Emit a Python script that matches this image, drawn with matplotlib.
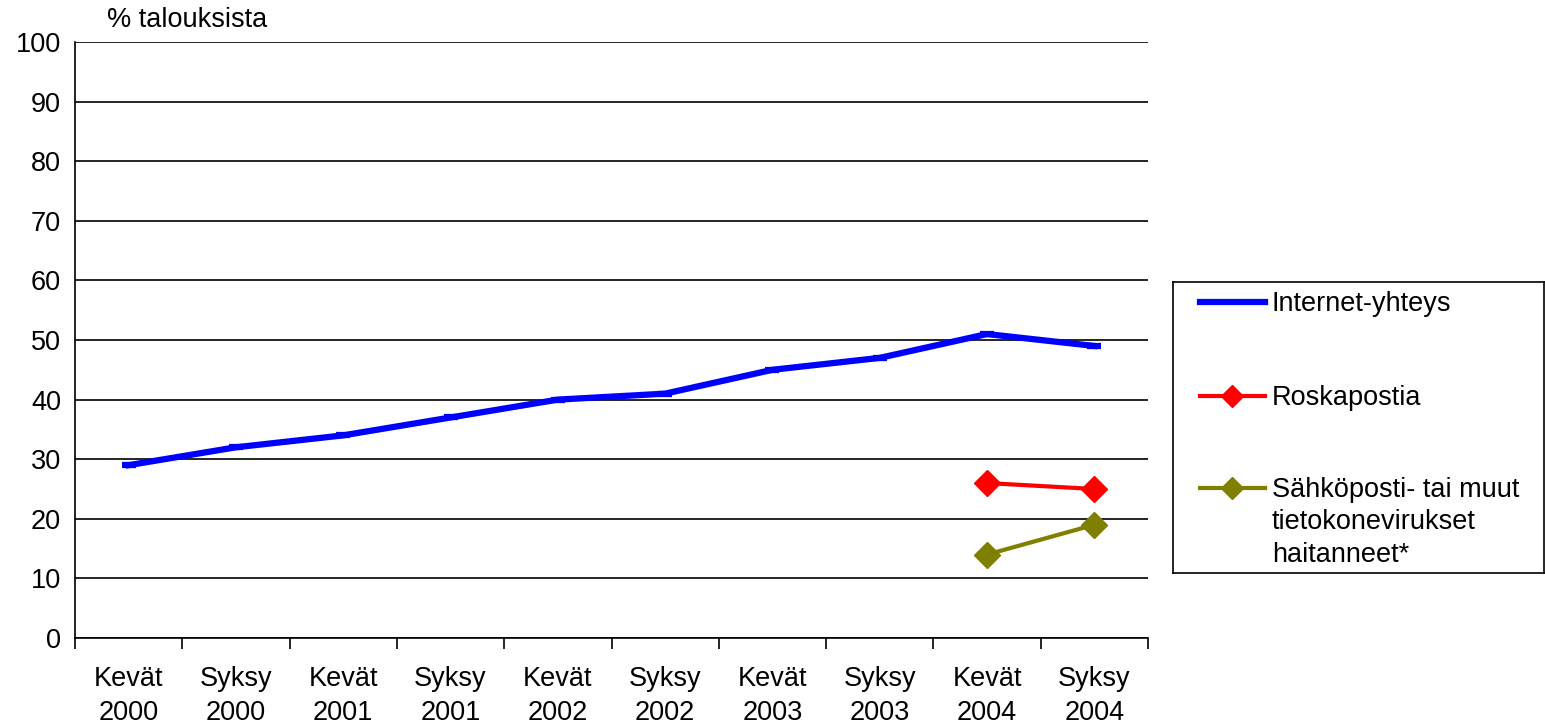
import matplotlib
matplotlib.use("Agg")
import matplotlib.pyplot as plt
from matplotlib.lines import Line2D
import numpy as np

plt.rcParams['font.family'] = ['Liberation Sans', 'DejaVu Sans']

# ----- DATA -----
periods = ["Kevät\n2000", "Syksy\n2000", "Kevät\n2001", "Syksy\n2001", "Kevät\n2002",
           "Syksy\n2002", "Kevät\n2003", "Syksy\n2003", "Kevät\n2004", "Syksy\n2004"]
internet = [29, 32, 34, 37, 40, 41, 45, 47, 51, 49]
roskaposti = [26, 25]          # kevät 2004, syksy 2004
virukset = [14, 19]            # kevät 2004, syksy 2004
labels = ["Internet-yhteys", "Roskapostia",
          "Sähköposti- tai muut\ntietokonevirukset\nhaitanneet*"]

BLUE = "#0000ff"
RED = "#ff0000"
OLIVE = "#808000"
FS = 19.5

fig = plt.figure(figsize=(15.45, 7.24), dpi=100)
ax = fig.add_axes([75 / 1545, 1 - 638 / 724, 1073 / 1545, 596 / 724])

x = np.arange(len(periods))
x_late = x[-2:]

l1, = ax.plot(x, internet, color=BLUE, lw=4.5, marker="_", ms=10, mew=4.5,
              solid_joinstyle="round", zorder=3)
l2, = ax.plot(x_late, roskaposti, color=RED, lw=3, marker="D", ms=13.5, zorder=3)
l3, = ax.plot(x_late, virukset, color=OLIVE, lw=3, marker="D", ms=13.5, zorder=3)

ax.set_xlim(-0.5, len(periods) - 0.5)
ax.set_ylim(0, 100)
ax.set_yticks(range(0, 101, 10))
ax.yaxis.grid(True, color="black", lw=1.2)
ax.set_axisbelow(True)
ax.tick_params(axis="y", length=0, pad=10, labelsize=FS)

# boundary ticks below the axis, labels centred on each period
ax.set_xticks(np.arange(-0.5, len(periods)), labels=[])
ax.set_xticks(x, labels=periods, minor=True)
ax.tick_params(axis="x", which="major", length=8, width=1.2, color="black")
ax.tick_params(axis="x", which="minor", length=0, pad=20, labelsize=FS)
for t in ax.get_xticklabels(minor=True):
    t.set_linespacing(1.4)

for s in ("top", "right"):
    ax.spines[s].set_visible(False)
for s in ("left", "bottom"):
    ax.spines[s].set_linewidth(1.2)

ax.text(0.03, 1.015, "% talouksista", transform=ax.transAxes, fontsize=FS,
        ha="left", va="bottom")

# legend panel
lax = fig.add_axes([1173 / 1545, 1 - 573 / 724, 371 / 1545, 291 / 724])
lax.set_xlim(0, 1)
lax.set_ylim(0, 1)
lax.set_xticks([])
lax.set_yticks([])
for s in lax.spines.values():
    s.set_linewidth(1.2)
for src, lab, yy in zip([l1, l2, l3], labels, [0.931, 0.608, 0.292]):
    lax.add_line(Line2D([0.073, 0.247], [yy, yy], color=src.get_color(),
                        lw=src.get_linewidth()))
    if src.get_marker() == "D":
        lax.plot([0.16], [yy], marker="D", ms=11, color=src.get_color())
    lax.text(0.266, yy + 0.038, lab, fontsize=FS, ha="left", va="top",
             linespacing=1.32)

fig.savefig("out.png", dpi=100)
